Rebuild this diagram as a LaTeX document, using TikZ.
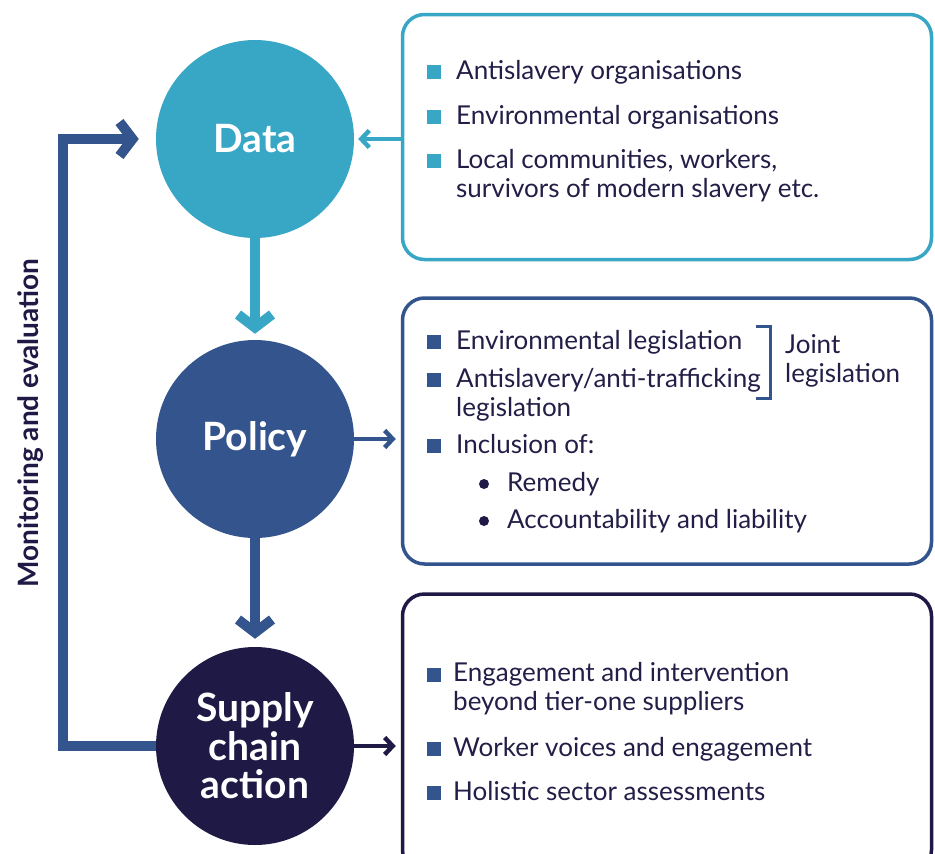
\documentclass[tikz,border=0pt]{standalone}
\usepackage{fontspec}
\setmainfont{Lato}
\usetikzlibrary{arrows.meta}

\definecolor{dataTeal}{RGB}{56,167,197}
\definecolor{policyBlue}{RGB}{51,84,140}
\definecolor{actionNavy}{RGB}{31,26,69}
\definecolor{inkNavy}{RGB}{34,30,71}

\tikzset{
	stage/.style={circle,minimum size=198pt,inner sep=0pt,text=white,align=center,
		font=\bfseries\fontsize{39}{38.5}\selectfont},
	panel/.style={draw,rounded corners=22pt,line width=3.5pt,minimum width=529pt},
	item/.style={anchor=base west,inner sep=0pt,text=inkNavy,align=left,
		font=\fontsize{26}{29}\selectfont},
	sq/.style={minimum size=14pt,inner sep=0pt},
	dot/.style={circle,fill=actionNavy,minimum size=10pt,inner sep=0pt},
	bigflow/.style={line width=10pt,-{Straight Barb[length=13pt,width=34pt]}},
	smallflow/.style={line width=4.5pt,-{Straight Barb[length=8pt,width=17pt]}}
}

\begin{document}
\begin{tikzpicture}[x=1pt,y=-1pt]
	\useasboundingbox (0,0) rectangle (935,854);

	% Stages start here
	\node (data) at (255,139) [stage,fill=dataTeal] {Data};
	\node (policy) at (255,439) [stage,fill=policyBlue] {Policy};
	\node (action) at (255,746) [stage,fill=actionNavy] {Supply\\chain\\action};

	% Panels start here
	\node (dpanel) at (667,137) [panel,draw=dataTeal,minimum height=245pt] {};
	\node (ppanel) at (667,431) [panel,draw=policyBlue,minimum height=266pt] {};
	\node (apanel) at (667,733) [panel,draw=actionNavy,minimum height=278pt] {};

	% Data items (multi-line nodes sit on their last line)
	\node (d1b) at (434,72) [sq,fill=dataTeal] {};
	\node (d1) at (456,79) [item] {Antislavery organisations};
	\node (d2b) at (434,117) [sq,fill=dataTeal] {};
	\node (d2) at (456,124) [item] {Environmental organisations};
	\node (d3b) at (434,161) [sq,fill=dataTeal] {};
	\node (d3) at (456,197) [item] {Local communities, workers,\\survivors of modern slavery etc.};

	% Policy items
	\node (p1b) at (434,342) [sq,fill=policyBlue] {};
	\node (p1) at (456,349) [item] {Environmental legislation};
	\node (p2b) at (434,380) [sq,fill=policyBlue] {};
	\node (p2) at (456,416) [item] {Antislavery/anti-trafficking\\legislation};
	\node (p3b) at (434,446) [sq,fill=policyBlue] {};
	\node (p3) at (456,453) [item] {Inclusion of:};
	\node (p4b) at (484,484) [dot] {};
	\node (p4) at (507,491) [item] {Remedy};
	\node (p5b) at (484,521) [dot] {};
	\node (p5) at (507,528) [item] {Accountability and liability};
	\draw[policyBlue,line width=3pt] (756,326) -- (770,326) -- (770,398) -- (756,398);
	\node (joint) at (785,382) [item] {Joint\\legislation};

	% Action items
	\node (a1b) at (434,675) [sq,fill=policyBlue] {};
	\node (a1) at (453,710) [item] {Engagement and intervention\\beyond tier-one suppliers};
	\node (a2b) at (434,749) [sq,fill=policyBlue] {};
	\node (a2) at (453,756) [item] {Worker voices and engagement};
	\node (a3b) at (434,793) [sq,fill=policyBlue] {};
	\node (a3) at (453,800) [item] {Holistic sector assessments};

	% Lines start here
	\draw[bigflow,dataTeal,shorten >=6pt] (data) -- (policy);
	\draw[bigflow,policyBlue,shorten >=8pt] (policy) -- (action);
	\draw[smallflow,dataTeal,shorten >=4pt] (dpanel.west |- data.east) -- (data.east);
	\draw[smallflow,policyBlue,shorten >=5pt] (policy.east) -- (policy.east -| ppanel.west);
	\draw[smallflow,actionNavy,shorten >=5pt] (action.east) -- (action.east -| apanel.west);

	% Feedback loop
	\coordinate (mon) at (63,423);
	\draw[bigflow,policyBlue,shorten >=17pt] (action.west) -| (mon) |- (data.west);
	\node (monlabel) at (31,423) [rotate=90,text=actionNavy,font=\bfseries\fontsize{28}{30}\selectfont] {Monitoring and evaluation};

\end{tikzpicture}
\end{document}
